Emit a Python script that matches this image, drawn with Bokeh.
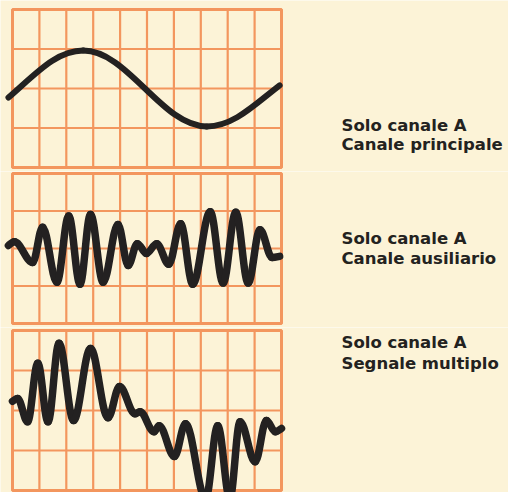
from bokeh.plotting import figure
from bokeh.layouts import column
from bokeh.models import Range1d
from bokeh.core.properties import value
from bokeh.embed import file_html
from bokeh.resources import INLINE

# ---------------- data (oscilloscope units: time divisions 0..10, volt divisions -2..2)
# Each trace is given by its turning points (start, peaks, troughs, end).
TIME_DIVS = list(range(0, 11))
VOLT_DIVS = [-2, -1, 0, 1, 2]

# Panel 1: main channel
main_t = [-0.15, 2.63, 7.22, 9.93]
main_v = [-0.23, 0.96, -0.96, 0.08]

# Panel 2: auxiliary channel
aux_t = [-0.15, 0.07, 0.75, 1.12, 1.65, 2.09, 2.51, 2.90, 3.37, 3.92, 4.30,
         4.64, 4.98, 5.36, 5.81, 6.25, 6.70, 7.35, 7.83, 8.30, 8.76, 9.20,
         9.65, 9.93]
aux_v = [0.08, 0.18, -0.37, 0.57, -0.90, 0.87, -0.95, 0.91, -0.90, 0.64, -0.45,
         0.13, -0.13, 0.13, -0.42, 0.66, -0.95, 0.98, -0.92, 0.97, -0.92, 0.50,
         -0.24, -0.21]

# Panel 3: multiplex signal
mpx_t = [0.00, 0.19, 0.56, 0.94, 1.32, 1.73, 2.27, 2.90, 3.55, 3.98, 4.55,
         4.74, 5.26, 5.45, 6.02, 6.43, 7.18, 7.63, 8.08, 8.46, 9.02, 9.44,
         9.77, 10.00]
mpx_v = [0.23, 0.30, -0.28, 1.18, -0.28, 1.68, -0.25, 1.55, -0.18, 0.60, -0.08,
         -0.03, -0.53, -0.38, -1.15, -0.33, -2.20, -0.38, -2.20, -0.28, -1.28, -0.25,
         -0.53, -0.45]

labels_main = ["Solo canale A", "Canale principale"]
labels_aux = ["Solo canale A", "Canale ausiliario"]
labels_mpx = ["Solo canale A", "Segnale multiplo"]

# ---------------- layout / style (page pixels)
W = 508
PANEL_LEFT_PX = 12
DIV_X_PX = 26.9
TEXT_X_PX = 341
BG = "#fcf3d7"
GRID = "#f3965e"
TRACE = "#232121"
A = 0.363  # bezier handle fraction giving a sinusoidal half-wave

panels = [
    dict(top=0, h=171, center=88.0, div=39.5, t=main_t, v=main_v, lw=6.0,
         labels=labels_main, base=[125, 144]),
    dict(top=171, h=156, center=248.0, div=37.5, t=aux_t, v=aux_v, lw=7.5,
         labels=labels_aux, base=[238, 258]),
    dict(top=327, h=165, center=410.0, div=40.0, t=mpx_t, v=mpx_v, lw=7.5,
         labels=labels_mpx, base=[342, 363]),
]


def bezier_segments(t, v):
    n = len(t)
    seg = dict(x0=[], y0=[], x1=[], y1=[], cx0=[], cy0=[], cx1=[], cy1=[])
    for i in range(n - 1):
        dt = t[i + 1] - t[i]
        dv = v[i + 1] - v[i]
        seg["x0"].append(t[i]); seg["y0"].append(v[i])
        seg["x1"].append(t[i + 1]); seg["y1"].append(v[i + 1])
        seg["cx0"].append(t[i] + A * dt)
        seg["cy0"].append(v[i] + (0.5 * dv if i == 0 else 0.0))
        seg["cx1"].append(t[i + 1] - A * dt)
        seg["cy1"].append(v[i + 1] - (0.5 * dv if i == n - 2 else 0.0))
    return seg


figs = []
for pn in panels:
    c_local = pn["center"] - pn["top"]
    x0 = -PANEL_LEFT_PX / DIV_X_PX
    x1 = (W - PANEL_LEFT_PX) / DIV_X_PX
    y1 = c_local / pn["div"]
    y0 = -(pn["h"] - c_local) / pn["div"]
    p = figure(width=W, height=pn["h"], x_range=Range1d(x0, x1), y_range=Range1d(y0, y1),
               toolbar_location=None, output_backend="svg", min_border=0,
               x_axis_location=None, y_axis_location=None,
               background_fill_color=BG, border_fill_color=BG, outline_line_color=None)
    p.grid.visible = False

    # graticule
    p.segment(x0=TIME_DIVS, y0=[VOLT_DIVS[0]] * len(TIME_DIVS),
              x1=TIME_DIVS, y1=[VOLT_DIVS[-1]] * len(TIME_DIVS),
              line_color=GRID, line_width=2.2)
    p.segment(x0=[TIME_DIVS[0]] * len(VOLT_DIVS), y0=VOLT_DIVS,
              x1=[TIME_DIVS[-1]] * len(VOLT_DIVS), y1=VOLT_DIVS,
              line_color=GRID, line_width=2.2)
    p.quad(left=[TIME_DIVS[0]], right=[TIME_DIVS[-1]], bottom=[VOLT_DIVS[0]], top=[VOLT_DIVS[-1]],
           fill_color=None, line_color=GRID, line_width=3.0)

    # trace
    p.bezier(**bezier_segments(pn["t"], pn["v"]), line_color=TRACE,
             line_width=pn["lw"], line_cap="round")

    # caption
    tx = (TEXT_X_PX - PANEL_LEFT_PX) / DIV_X_PX
    ty = [(pn["center"] - b) / pn["div"] for b in pn["base"]]
    p.text(x=[tx, tx], y=ty, text=pn["labels"], text_font=value("DejaVu Sans"),
           text_font_style="bold", text_font_size="16.5px", text_color="#232220",
           text_baseline="alphabetic", text_align="left")
    figs.append(p)

layout = column(*figs, spacing=0)
open("out.html", "w").write(file_html(layout, INLINE))
